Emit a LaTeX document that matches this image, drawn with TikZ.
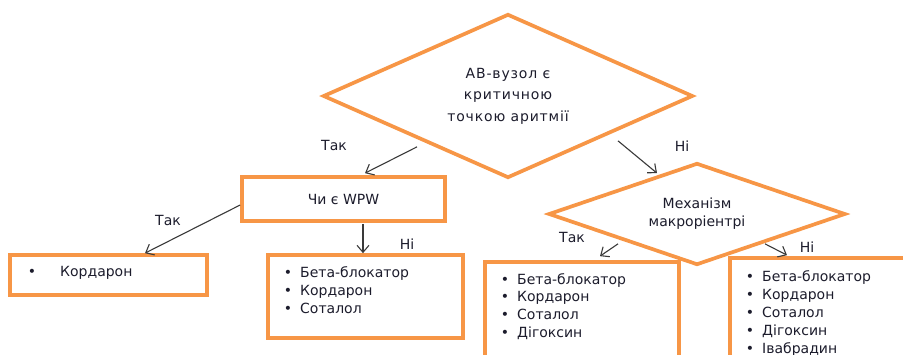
\documentclass[tikz,border=0pt]{standalone}
\usepackage{fontspec}
\setmainfont{DejaVu Sans}
\usetikzlibrary{shapes.geometric,arrows.meta}

\definecolor{boxorange}{HTML}{F79646}
\definecolor{ink}{HTML}{1C1C2C}
\definecolor{arrowgray}{HTML}{3A3A3A}

\newcommand{\bul}[1][8pt]{\llap{\textbullet\hspace{#1}}}

\begin{document}
\begin{tikzpicture}[x=1pt,y=-1pt,
  every node/.style={text=ink, font=\fontsize{14}{21.5}\selectfont},
  decision/.style={draw=boxorange, line width=3.7pt, shape=diamond, inner sep=0pt,
    align=center, line join=miter},
  panel/.style={draw=boxorange, line width=3.7pt, rectangle, inner sep=0pt},
  item/.style={anchor=base west, inner sep=0pt},
  tag/.style={inner sep=0pt},
  arr/.style={draw=arrowgray, line width=1.1pt, -{Straight Barb[length=7pt,width=12pt]}}]

  \useasboundingbox (0,0) rectangle (903,354);
  \clip (0,0) rectangle (903,354);
  \fill[white] (0,0) rectangle (903,354);

  % decisions
  \node[decision, minimum width=370pt, minimum height=164pt, aspect=2.26,
    font=\fontsize{14}{21.5}\selectfont\addfontfeature{LetterSpace=6}]
    (d1) at (508,96) {АВ-вузол є\\критичною\\точкою аритмії};
  \node[decision, minimum width=297pt, minimum height=102pt, aspect=2.9,
    font=\fontsize{14}{18}\selectfont]
    (d2) at (697,214) {Механізм\\макроріентрі};

  % boxes
  \node[panel, minimum width=203pt, minimum height=44pt] (wpw) at (343.5,199) {Чи є WPW};
  \node[panel, minimum width=197pt, minimum height=40pt] (b1) at (108.5,275) {};
  \node[panel, minimum width=195pt, minimum height=83pt] (b2) at (365.5,296.5) {};
  \node[panel, minimum width=194pt, minimum height=118pt] (b3) at (582,321) {};
  \node[panel, minimum width=185pt, minimum height=122pt] (b4) at (822.5,319) {};

  % lists
  \node[item] (b1i1) at (60,276) {\bul[24pt]Кордарон};
  \foreach \t [count=\i] in {Бета-блокатор,Кордарон,Соталол}
    \node[item] (b2i\i) at (300,{277+18*(\i-1)}) {\bul\t};
  \foreach \t [count=\i] in {Бета-блокатор,Кордарон,Соталол,Дігоксин}
    \node[item] (b3i\i) at (517,{284+17.7*(\i-1)}) {\bul\t};
  \foreach \t [count=\i] in {Бета-блокатор,Кордарон,Соталол,Дігоксин,Івабрадин}
    \node[item] (b4i\i) at (762,{281+18*(\i-1)}) {\bul\t};

  % branch labels
  \node[tag] (t1) at (334,145) {Так};
  \node[tag] (n1) at (682,146) {Ні};
  \node[tag] (t2) at (168,220) {Так};
  \node[tag] (n2) at (407,244) {Ні};
  \node[tag] (t3) at (572,237) {Так};
  \node[tag] (n3) at (807,247) {Ні};

  % connectors
  \draw[arr] ([shift={(-91,-33)}]d1.south) -- ([shift={(21.5,-2)}]wpw.north);
  \draw[arr] ([shift={(110,-39)}]d1.south) -- ([shift={(-40,12)}]d2.north);
  \draw[arr] ([shift={(0,6)}]wpw.west) -- ([shift={(36.5,0)}]b1.north);
  \draw[arr] ([shift={(19.5,1)}]wpw.south) -- ([shift={(-2.5,0)}]b2.north);
  \draw[arr] ([shift={(-79,-23)}]d2.south) -- ([shift={(18,-4)}]b3.north);
  \draw[arr] ([shift={(68,-23)}]d2.south) -- ([shift={(-35.5,-1)}]b4.north);
\end{tikzpicture}
\end{document}
